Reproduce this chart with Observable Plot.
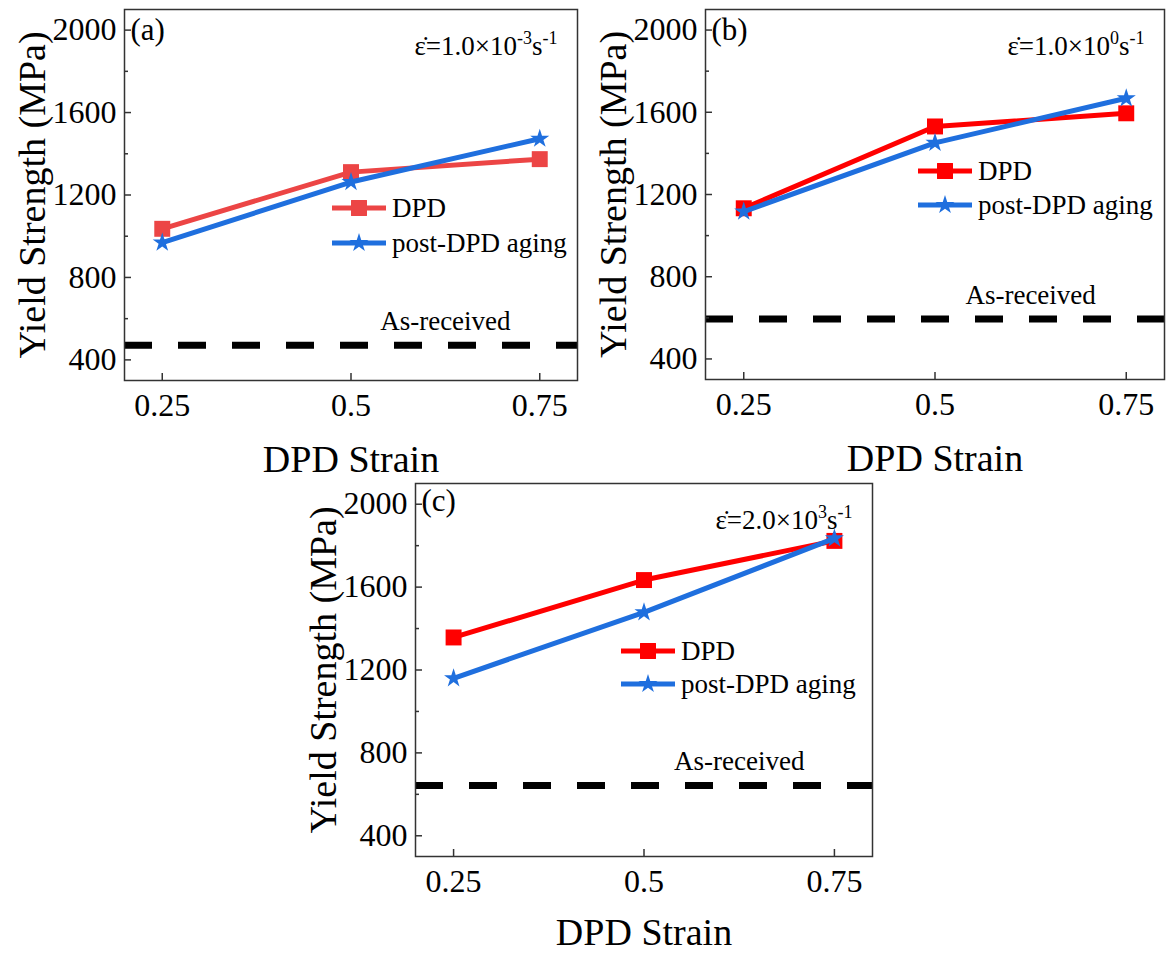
<!DOCTYPE html>
<html><head><meta charset="utf-8">
<script src="https://cdn.jsdelivr.net/npm/d3@7"></script>
<script src="https://cdn.jsdelivr.net/npm/@observablehq/plot@0.6"></script>
<style>
body{margin:0;background:#fff;}
#root{position:relative;width:1166px;height:953px;font-family:"Liberation Serif","Times New Roman",serif;overflow:hidden;}
.panel{position:absolute;}
.legend{position:absolute;font-size:27px;color:#000;}
.legend .row{position:absolute;left:0;display:flex;align-items:center;white-space:nowrap;}
.legend .row span{margin-left:6px;}
</style></head><body><div id="root"></div>
<script>
// ---- data ----
const strains = [0.25, 0.5, 0.75];
const strainLabels = ["0.25", "0.5", "0.75"];
const yMajor = [400, 800, 1200, 1600, 2000];
const yMinor = [600, 1000, 1400, 1800];
const panelLabels = ["(a)", "(b)", "(c)"];
const rateMantissa = ["1.0", "1.0", "2.0"];
const rateExponent = ["-3", "0", "3"];
const seriesNames = ["DPD", "post-DPD aging"];
const dpdA = [1036, 1311, 1374];
const postA = [969, 1263, 1473];
const dpdB = [1133, 1531, 1595];
const postB = [1117, 1451, 1668];
const dpdC = [1357, 1634, 1823];
const postC = [1160, 1478, 1835];
const asReceived = [471, 594, 643];
const asReceivedLabel = "As-received";
const asLabelX = 0.625;
const xTitle = "DPD Strain";
const yTitle = "Yield Strength (MPa)";

// ---- layout ----
const blue = "#1f6fde";
const reds = ["#ec4545", "#ff0000", "#ff0000"];
const layout = [
  {left: 0, top: 0, width: 583, height: 470, ml: 124, mr: 6, mt: 9, mb: 90, lbl: 21, xt: 79, legend: {x: 332, y: 191, gap: 35}},
  {left: 583, top: 0, width: 583, height: 470, ml: 122, mr: 2, mt: 9, mb: 91, lbl: 21, xt: 79, legend: {x: 918, y: 154, gap: 34}},
  {left: 290, top: 470, width: 600, height: 483, ml: 125, mr: 18, mt: 13, mb: 97, lbl: 18, xt: 76, legend: {x: 621, y: 634, gap: 33}}
];
const dpdSeries = [dpdA, dpdB, dpdC];
const postSeries = [postA, postB, postC];
const root = document.getElementById("root");
const font = "Liberation Serif, Times New Roman, serif";

layout.forEach((L, i) => {
  const rows = strains.map((s, j) => ({strain: s, dpd: dpdSeries[i][j], post: postSeries[i][j]}));
  const red = reds[i];
  const rateText = `ε̇=${rateMantissa[i]}×10^${rateExponent[i]}^s^-1`;
  const svg = Plot.plot({
    width: L.width, height: L.height,
    marginLeft: L.ml, marginRight: L.mr, marginTop: L.mt, marginBottom: L.mb,
    x: {domain: [0.2, 0.8]},
    y: {domain: [300, 2100]},
    style: {fontFamily: font, background: "transparent", color: "#000", overflow: "visible"},
    marks: [
      Plot.ruleY([asReceived[i]], {stroke: "#000", strokeWidth: 7, strokeDasharray: "28,26"}),
      Plot.text([{x: asLabelX, y: asReceived[i], t: asReceivedLabel}], {x: "x", y: "y", text: "t", dy: -24, fontSize: 27, fill: "#000"}),
      Plot.line(rows, {x: "strain", y: "dpd", stroke: red, strokeWidth: 5}),
      Plot.dot(rows, {x: "strain", y: "dpd", symbol: "square", r: 9, fill: red, stroke: null}),
      Plot.line(rows, {x: "strain", y: "post", stroke: blue, strokeWidth: 5}),
      Plot.dot(rows, {x: "strain", y: "post", symbol: "star", r: 6, fill: blue, stroke: null}),
      Plot.frame({stroke: "#333", strokeWidth: 1.5}),
      Plot.axisY(yMajor, {anchor: "left", tickSize: 0, tickPadding: 8, fontSize: 32, label: null, tickFormat: (d) => String(d)}),
      Plot.axisY(yMajor, {anchor: "left", tickSize: -7, tickFormat: () => "", label: null, stroke: "#333", strokeWidth: 1.5}),
      Plot.axisY(yMinor, {anchor: "left", tickSize: -4, tickFormat: () => "", label: null, stroke: "#333", strokeWidth: 1.5}),
      Plot.axisX(strains, {anchor: "bottom", tickSize: 0, tickPadding: 13, fontSize: 32, label: null, tickFormat: (d) => strainLabels[strains.indexOf(d)]}),
      Plot.axisX(strains, {anchor: "bottom", tickSize: -7, tickFormat: () => "", label: null, stroke: "#333", strokeWidth: 1.5}),
      Plot.text([xTitle], {frameAnchor: "bottom", lineAnchor: "middle", textAnchor: "middle", dy: L.xt, fontSize: 38, fill: "#000"}),
      Plot.text([yTitle], {frameAnchor: "left", lineAnchor: "middle", textAnchor: "middle", dx: -92, rotate: -90, fontSize: 38, fill: "#000"}),
      Plot.text([panelLabels[i]], {frameAnchor: "top-left", lineAnchor: "middle", textAnchor: "start", dx: 6, dy: L.lbl, fontSize: 31, fill: "#000"}),
      Plot.text([rateText], {frameAnchor: "top-right", lineAnchor: "middle", textAnchor: "end", dx: -20, dy: 37, fontSize: 27, fill: "#000"})
    ]
  });
  // superscripts in the strain-rate annotation
  d3.select(svg).selectAll("text").filter(function () { return this.textContent.startsWith("ε"); }).each(function () {
    const parts = this.textContent.split("^");
    const t = d3.select(this);
    t.text(null);
    t.append("tspan").text(parts[0]);
    t.append("tspan").attr("dy", -11).attr("font-size", 18).text(parts[1]);
    t.append("tspan").attr("dy", 11).attr("font-size", 27).text(parts[2]);
    t.append("tspan").attr("dy", -11).attr("font-size", 18).text(parts[3]);
  });
  const wrap = document.createElement("div");
  wrap.className = "panel";
  wrap.style.left = L.left + "px";
  wrap.style.top = L.top + "px";
  wrap.appendChild(svg);
  root.appendChild(wrap);

  // legend
  const lg = document.createElement("div");
  lg.className = "legend";
  lg.style.left = L.legend.x + "px";
  lg.style.top = L.legend.y + "px";
  const sw = [{color: red, sym: d3.symbolSquare, size: Math.PI * 81}, {color: blue, sym: d3.symbolStar, size: Math.PI * 36}];
  seriesNames.forEach((name, k) => {
    const row = document.createElement("div");
    row.className = "row";
    row.style.top = (k * L.legend.gap) + "px";
    const s = d3.create("svg").attr("width", 54).attr("height", 34);
    s.append("line").attr("x1", 0).attr("x2", 54).attr("y1", 17).attr("y2", 17).attr("stroke", sw[k].color).attr("stroke-width", 5);
    s.append("path").attr("transform", "translate(27,17)").attr("d", d3.symbol(sw[k].sym, sw[k].size)()).attr("fill", sw[k].color);
    row.appendChild(s.node());
    const sp = document.createElement("span");
    sp.textContent = name;
    sp.style.lineHeight = "34px";
    row.appendChild(sp);
    lg.appendChild(row);
  });
  root.appendChild(lg);
});
</script>
</body></html>
